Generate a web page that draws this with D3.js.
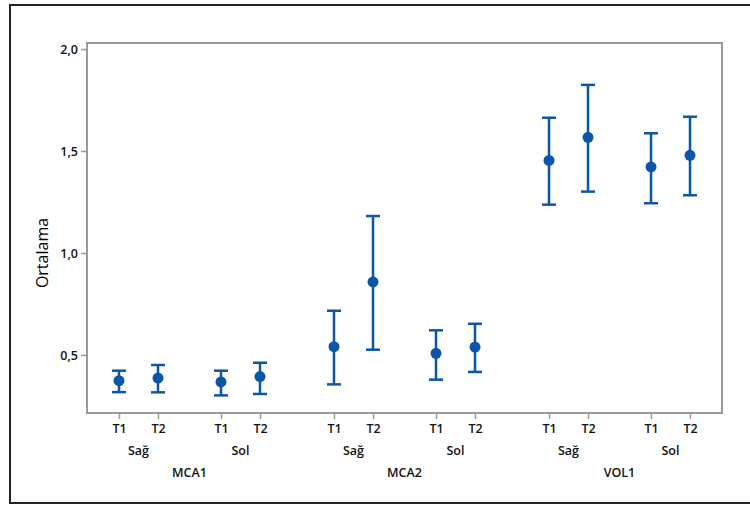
<!DOCTYPE html>
<html>
<head>
<meta charset="utf-8">
<script src="https://cdn.jsdelivr.net/npm/d3@7"></script>
<style>
  body { margin: 0; background: #fff; }
  text { font-family: "Open Sans", "DejaVu Sans", sans-serif; }
</style>
</head>
<body>
<script>
// interval plot data: mean with upper / lower bounds
var groups = ["MCA1", "MCA2", "VOL1"];
var sides = ["Sağ", "Sol"];
var times = ["T1", "T2"];

// order: group -> side -> time
var means = [0.374, 0.387, 0.368, 0.394,
             0.541, 0.858, 0.508, 0.539,
             1.454, 1.567, 1.422, 1.479];
var uppers = [0.423, 0.451, 0.423, 0.462,
              0.717, 1.181, 0.621, 0.653,
              1.663, 1.824, 1.587, 1.668];
var lowers = [0.318, 0.317, 0.302, 0.309,
              0.356, 0.526, 0.379, 0.417,
              1.237, 1.301, 1.244, 1.283];
var yTicks = [0.5, 1.0, 1.5, 2.0];

var W = 750, H = 505;
var frame = {left: 87, top: 43, right: 722, bottom: 413};
var blue = "#0a56a8";

var svg = d3.select("body").append("svg")
    .attr("width", W)
    .attr("height", H);

// outer border
svg.append("rect")
    .attr("x", 10).attr("y", 5)
    .attr("width", 780).attr("height", 498)
    .attr("fill", "none")
    .attr("stroke", "#222")
    .attr("stroke-width", 2);

var rows = [];
groups.forEach(function(g, gi) {
  sides.forEach(function(s, si) {
    times.forEach(function(t, ti) {
      var i = gi * 4 + si * 2 + ti;
      rows.push({group: g, side: s, time: t, gi: gi, si: si, ti: ti,
                 mean: means[i], hi: uppers[i], lo: lowers[i]});
    });
  });
});

// slot units: time step = 1, side step and group step a bit wider
var slot = function(d) { return d.ti + d.si * 2.615 + d.gi * 5.513; };
var x = d3.scaleLinear().domain([0, 1]).range([119, 158]);
var y = d3.scaleLinear().domain([0.5, 1.5]).range([355, 151]);

// frame
svg.append("rect")
    .attr("x", frame.left).attr("y", frame.top)
    .attr("width", frame.right - frame.left)
    .attr("height", frame.bottom - frame.top)
    .attr("fill", "none")
    .attr("stroke", "#9a9a9a")
    .attr("stroke-width", 2);

// y axis
var yAxis = svg.append("g")
    .attr("transform", "translate(" + (frame.left - 1) + ",0)")
    .call(d3.axisLeft(y).tickValues(yTicks).tickSize(5).tickPadding(3)
      .tickFormat(function(d) { return d3.format(".1f")(d).replace(".", ","); }));
yAxis.select(".domain").remove();
yAxis.selectAll(".tick line").attr("stroke", "#9a9a9a").attr("stroke-width", 1.5);
yAxis.selectAll(".tick text")
    .attr("fill", "#111")
    .style("font-size", "12.5px")
    .style("font-weight", "600");

// x axis ticks + T labels
var xAxis = svg.append("g")
    .attr("transform", "translate(0," + (frame.bottom + 1) + ")")
    .call(d3.axisBottom(x).tickValues(rows.map(slot)).tickSize(5).tickPadding(5)
      .tickFormat(function(d, i) { return rows[i].time; }));
xAxis.select(".domain").remove();
xAxis.selectAll(".tick line").attr("stroke", "#9a9a9a").attr("stroke-width", 1.5);
xAxis.selectAll(".tick text")
    .attr("fill", "#111")
    .style("font-size", "12.5px")
    .style("font-weight", "600");

// side labels
var sideRows = rows.filter(function(d) { return d.ti == 0; });
svg.selectAll(".side")
    .data(sideRows)
  .enter().append("text")
    .attr("class", "side")
    .attr("x", function(d) { return (x(slot(d)) + x(slot(d) + 1)) / 2; })
    .attr("y", 455)
    .attr("text-anchor", "middle")
    .attr("fill", "#111")
    .style("font-size", "12.5px")
    .style("font-weight", "600")
    .text(function(d) { return d.side; });

// group labels
var groupRows = rows.filter(function(d) { return d.ti == 0 && d.si == 0; });
svg.selectAll(".grp")
    .data(groupRows)
  .enter().append("text")
    .attr("class", "grp")
    .attr("x", function(d) { return (x(slot(d)) + x(slot(d) + 3.615)) / 2; })
    .attr("y", 477)
    .attr("text-anchor", "middle")
    .attr("fill", "#111")
    .style("font-size", "12.5px")
    .style("font-weight", "600")
    .text(function(d) { return d.group; });

// y title
svg.append("text")
    .attr("transform", "translate(48," + y(1.0) + ") rotate(-90)")
    .attr("text-anchor", "middle")
    .attr("fill", "#000")
    .style("font-size", "16px")
    .style("font-weight", "500")
    .text("Ortalama");

// intervals
var iv = svg.selectAll(".iv")
    .data(rows)
  .enter().append("g")
    .attr("class", "iv")
    .attr("transform", function(d) { return "translate(" + x(slot(d)) + ",0)"; });

iv.append("line")
    .attr("y1", function(d) { return y(d.hi); })
    .attr("y2", function(d) { return y(d.lo); })
    .attr("stroke", blue).attr("stroke-width", 2.5);
iv.append("line")
    .attr("x1", -7).attr("x2", 7)
    .attr("y1", function(d) { return y(d.hi); })
    .attr("y2", function(d) { return y(d.hi); })
    .attr("stroke", blue).attr("stroke-width", 2.5);
iv.append("line")
    .attr("x1", -7).attr("x2", 7)
    .attr("y1", function(d) { return y(d.lo); })
    .attr("y2", function(d) { return y(d.lo); })
    .attr("stroke", blue).attr("stroke-width", 2.5);
iv.append("circle")
    .attr("cy", function(d) { return y(d.mean); })
    .attr("r", 5.5)
    .attr("fill", blue);
</script>
</body>
</html>
